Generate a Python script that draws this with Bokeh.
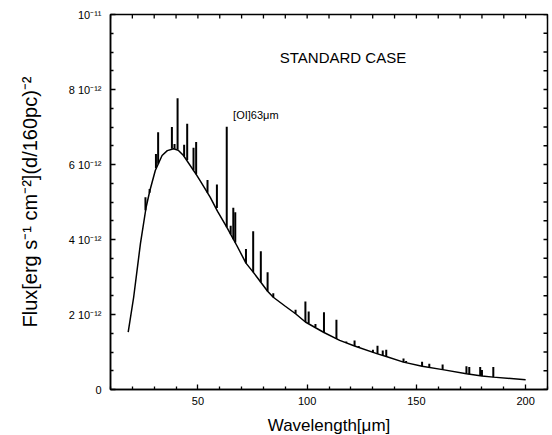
from bokeh.plotting import figure
from bokeh.models import Range1d, FixedTicker
from bokeh.embed import file_html
from bokeh.resources import INLINE

# ---- data (flux in units of 1e-12 erg s^-1 cm^-2) ----
cont_wl = [18.1, 20.6, 23.7, 26.3, 28.0, 30.5, 33.6, 36.0, 38.9, 41.0, 43.4,
           49.5, 51.0, 55.6, 59.0, 63.2, 67.8, 72.0, 75.3, 78.8, 81.9, 84.5,
           90.0, 94.7, 99.2, 107.7, 114.9, 121.7, 132.2, 136.2, 144.1, 152.6,
           162.0, 172.9, 180.0, 185.2, 200.0]
cont_flux = [1.53, 2.46, 3.89, 4.86, 5.30, 5.84, 6.24, 6.37, 6.42, 6.38, 6.24,
             5.71, 5.57, 5.13, 4.75, 4.33, 3.84, 3.37, 3.13, 2.86, 2.62, 2.46,
             2.22, 2.02, 1.80, 1.52, 1.31, 1.16, 0.95, 0.88, 0.73, 0.62,
             0.53, 0.42, 0.36, 0.33, 0.26]

line_wl = [26.0, 27.9, 30.8, 31.8, 38.1, 39.3, 40.7, 43.7, 45.1, 48.0, 49.2,
           54.4, 58.7, 63.2, 65.0, 66.2, 67.1, 72.0, 75.3, 78.8, 81.9, 84.5,
           94.7, 99.2, 100.7, 103.8, 107.7, 113.4, 117.9, 121.7, 123.6, 130.1,
           132.2, 134.6, 136.2, 144.1, 145.3, 152.6, 155.9, 162.0, 172.9,
           174.2, 179.2, 180.0, 185.2]
line_base = [4.78, 5.25, 5.90, 6.02, 6.42, 6.42, 6.40, 6.22, 6.12, 5.85, 5.74,
             5.25, 4.84, 4.33, 4.14, 4.01, 3.92, 3.37, 3.13, 2.86, 2.62, 2.46,
             2.02, 1.80, 1.76, 1.67, 1.52, 1.35, 1.24, 1.16, 1.12, 0.99,
             0.95, 0.91, 0.88, 0.73, 0.72, 0.62, 0.59, 0.53, 0.42,
             0.41, 0.37, 0.36, 0.33]
line_peak = [5.13, 5.35, 6.28, 6.86, 7.00, 6.55, 7.77, 6.53, 7.09, 6.45, 6.60,
             5.59, 5.47, 7.01, 4.37, 4.85, 4.73, 3.75, 4.22, 3.69, 3.13, 2.57,
             2.13, 2.35, 2.08, 1.75, 2.06, 1.86, 1.28, 1.31, 1.16, 1.06,
             1.17, 1.04, 1.06, 0.83, 0.76, 0.74, 0.69, 0.67, 0.62,
             0.60, 0.60, 0.52, 0.60]

x_major = [50, 100, 150, 200]
x_minor = [10, 20, 30, 40, 60, 70, 80, 90, 110, 120, 130, 140, 160, 170, 180, 190, 210]
y_major = [0, 2, 4, 6, 8, 10]
y_major_labels = ["0", "2 10\u207b\u00b9\u00b2", "4 10\u207b\u00b9\u00b2",
                  "6 10\u207b\u00b9\u00b2", "8 10\u207b\u00b9\u00b2", "10\u207b\u00b9\u00b9"]
y_minor = [0.5, 1, 1.5, 2.5, 3, 3.5, 4.5, 5, 5.5, 6.5, 7, 7.5, 8.5, 9, 9.5]

annot_text = ["STANDARD CASE", "[OI]63\u03bcm"]
annot_x = [116.4, 66.1]
annot_y = [8.85, 7.31]

X0, X1, Y0, Y1 = 10, 210, 0, 10
FW, FH = 437, 375

p = figure(frame_width=FW, frame_height=FH,
           min_border_left=110, min_border_right=5, min_border_top=14, min_border_bottom=38,
           x_range=Range1d(X0, X1), y_range=Range1d(Y0, Y1),
           output_backend="svg", toolbar_location=None,
           x_axis_label="Wavelength[\u03bcm]",
           y_axis_label="Flux[erg s\u207b\u00b9 cm\u207b\u00b2](d/160pc)\u207b\u00b2")
p.xgrid.visible = False
p.ygrid.visible = False
p.outline_line_color = "black"
p.outline_line_width = 1.5

for ax in (p.xaxis[0], p.yaxis[0]):
    ax.axis_line_color = "black"
    ax.axis_line_width = 1.5
    ax.major_tick_in = 5
    ax.major_tick_out = 0
    ax.minor_tick_in = 3
    ax.minor_tick_out = 0
    ax.major_tick_line_color = "black"
    ax.minor_tick_line_color = "black"
    ax.major_tick_line_width = 1.3
    ax.minor_tick_line_width = 1.3
    ax.major_label_text_font_size = "11px"
    ax.major_label_text_color = "black"
    ax.axis_label_text_font_style = "normal"
    ax.axis_label_text_color = "black"

p.xaxis[0].ticker = FixedTicker(ticks=x_major, minor_ticks=x_minor)
p.xaxis[0].major_label_standoff = 7
p.xaxis[0].axis_label_standoff = 8
p.xaxis[0].axis_label_text_font_size = "17px"

p.yaxis[0].ticker = FixedTicker(ticks=y_major, minor_ticks=y_minor)
p.yaxis[0].major_label_overrides = {v: s for v, s in zip(y_major, y_major_labels)}
p.yaxis[0].major_label_standoff = 9
p.yaxis[0].axis_label_standoff = 25
p.yaxis[0].axis_label_text_font_size = "20px"

# top and right tick marks (inside the frame) drawn as glyphs
ux = (X1 - X0) / FW   # data units per pixel, x
uy = (Y1 - Y0) / FH   # data units per pixel, y
TICK = 4
tx, ty = [], []
for x in x_major + x_minor:
    tx.append([x, x])
    ty.append([Y1, Y1 - TICK * uy])
for y in y_major + y_minor:
    tx.append([X1, X1 - TICK * ux])
    ty.append([y, y])
p.multi_line(xs=tx, ys=ty, line_color="black", line_width=1.3)

# ---- spectrum ----
p.segment(x0=line_wl, y0=line_base, x1=line_wl, y1=line_peak,
          line_color="black", line_width=2)
p.line(cont_wl, cont_flux, line_color="black", line_width=1.5)

# ---- annotations as text glyphs ----
p.text(x=annot_x[:1], y=annot_y[:1], text=annot_text[:1], text_font_size="15px",
       text_align="center", text_baseline="middle", text_color="black")
p.text(x=annot_x[1:], y=annot_y[1:], text=annot_text[1:], text_font_size="11px",
       text_align="left", text_baseline="middle", text_color="black")

open("out.html", "w").write(file_html(p, INLINE))
